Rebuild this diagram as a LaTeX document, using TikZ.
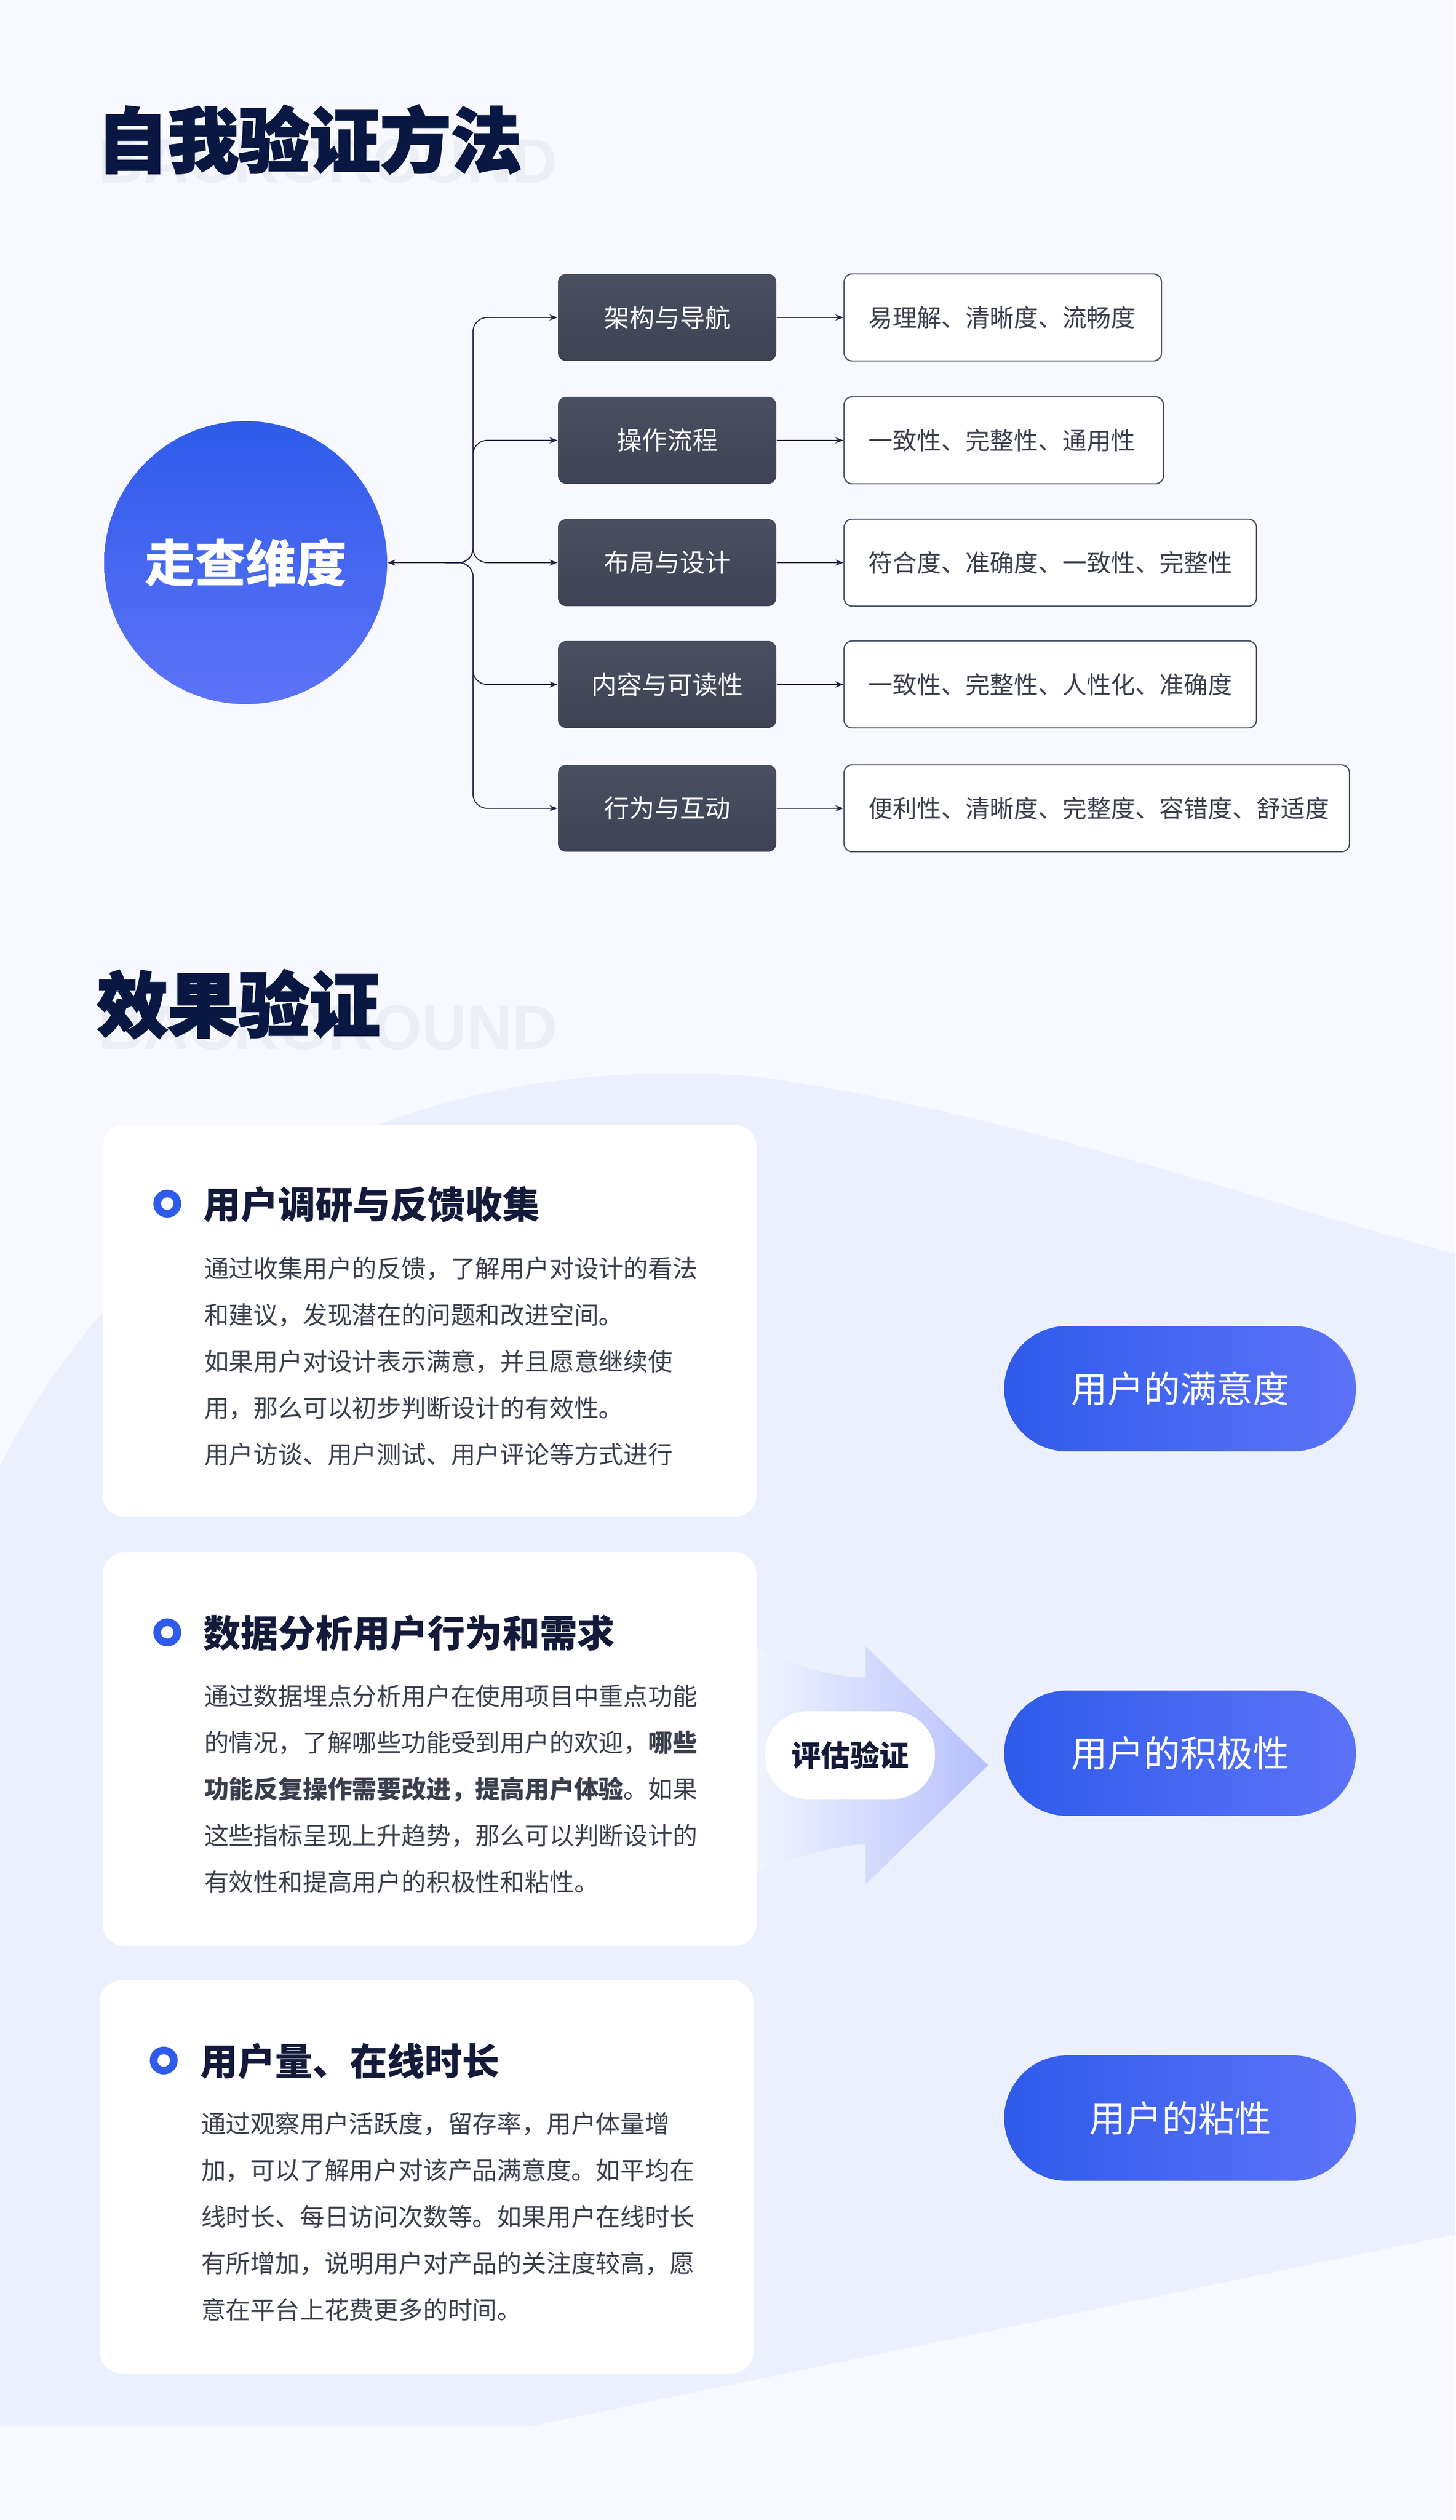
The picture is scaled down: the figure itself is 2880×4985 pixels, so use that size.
\documentclass[tikz,border=0pt]{standalone}
\usepackage{fontspec}
\setmainfont{Noto Sans CJK SC}
\newfontfamily\heavy{Noto Sans CJK SC}[BoldFeatures={FakeBold=2.5}]
\newfontfamily\wm{Liberation Sans}
\usetikzlibrary{arrows.meta,shadings}
\definecolor{pagebg}{HTML}{F7F9FE}
\definecolor{navy}{HTML}{081842}
\definecolor{wmc}{HTML}{EBEEF5}
\definecolor{dark1}{HTML}{4A4F62}
\definecolor{dark2}{HTML}{3E4254}
\definecolor{blueA}{HTML}{2F5BEA}
\definecolor{blueB}{HTML}{5C73F8}
\definecolor{txt}{HTML}{3A3F4E}
\definecolor{head}{HTML}{141B3A}
\definecolor{linec}{HTML}{1E2540}
\definecolor{pale}{HTML}{E8EEFC}
\tikzset{
 darkbox/.style={rounded corners=4pt, top color=dark1, bottom color=dark2, draw=none, minimum width=108pt, minimum height=43pt, text=white, font=\fontsize{12.5}{14}\selectfont},
 wbox/.style={rounded corners=4pt, fill=white, draw=dark1, line width=0.6pt, minimum height=43pt, anchor=west, text=txt, font=\fontsize{12}{14}\selectfont, align=left, inner xsep=12pt},
 conn/.style={draw=linec, line width=0.5pt, -{Stealth[length=4pt,width=3pt]}},
 card/.style={rounded corners=11pt, fill=white, draw=none},
 ring/.style={draw=blueA, line width=3.8pt, fill=white, circle, minimum size=10pt, inner sep=0pt},
 hd/.style={anchor=base west, text=head, font=\fontsize{18.5}{20}\selectfont\bfseries},
 bd/.style={anchor=base west, text=txt, font=\fontsize{12.2}{14}\selectfont},
 pill/.style={rounded corners=31pt, minimum width=174pt, minimum height=62pt, left color=blueA, right color=blueB, text=white, font=\fontsize{18}{20}\selectfont},
 wmark/.style={anchor=base west, text=wmc, font=\fontsize{31}{33}\selectfont\wm\bfseries},
 ttl/.style={anchor=base west, text=navy, font=\fontsize{35}{38}\selectfont\heavy\bfseries}
}
\begin{document}
\begin{tikzpicture}[x=0.25pt,y=-0.25pt]
\fill[pagebg] (0,0) rectangle (2880,4985);
\useasboundingbox (0,0) rectangle (2880,4985);
% background decoration
\fill[pale, opacity=0.8] (0,2900) .. controls (300,2300) and (900,2080) .. (1500,2130) .. controls (2000,2200) and (2500,2380) .. (2880,2480) -- (2880,4420) -- (1048,4800) -- (0,4800) -- cycle;
% ===== section 1 =====
\node[wmark] (wm1) at (180,362) {BACKGROUND};
\node[ttl] (t1) at (178,330) {自我验证方法};
\node[circle, minimum size=140pt, inner sep=0pt, top color=blueA, bottom color=blueB, text=white, font=\fontsize{25}{27}\selectfont\bfseries] (circ) at (486,1113) {走查维度};
\foreach \i/\y/\a/\b/\w in {1/628/架构与导航/易理解、清晰度、流畅度/133,
 2/871/操作流程/一致性、完整性、通用性/134,
 3/1113/布局与设计/符合度、准确度、一致性、完整性/180,
 4/1354/内容与可读性/一致性、完整性、人性化、准确度/180,
 5/1599/行为与互动/便利性、清晰度、完整度、容错度、舒适度/226}{
 \node[darkbox] (d\i) at (1320,\y) {\a};
 \node[wbox, text width=\w pt] (r\i) at (1669,\y) {\b};
 \draw[conn] (d\i.east) -- (r\i.west);
 \draw[conn, rounded corners=7pt] (880,1113) -| (936,\y) -- (d\i.west);
}
\coordinate (jn) at (880,1113);
\draw[conn] (jn) -- (circ.east);
% ===== section 2 =====
\node[wmark] (wm2) at (180,2075) {BACKGROUND};
\node[ttl] (t2) at (178,2040) {效果验证};
% big arrow
\shade[left color=pale!60!white, right color=blueB!45!white] (1490,3257) .. controls (1580,3300) and (1650,3316) .. (1713,3319) -- (1713,3257) -- (1955,3492) -- (1713,3727) -- (1713,3648) .. controls (1650,3652) and (1580,3670) .. (1490,3705) -- cycle;
% cards
\node[card, minimum width=323.5pt, minimum height=194pt] (c1) at (850,2613) {};
\node[card, minimum width=323.5pt, minimum height=194.7pt] (c2) at (850,3460) {};
\node[card, minimum width=323.5pt, minimum height=194.5pt] (c3) at (844,4306) {};
\node[ring] (i1) at (331,2381) {};
\node[ring] (i2) at (331,3229) {};
\node[ring] (i3) at (324,4076) {};
\node[hd] (h1) at (388,2410) {用户调研与反馈收集};
\node[hd] (h2) at (388,3258) {数据分析用户行为和需求};
\node[hd] (h3) at (382,4105) {用户量、在线时长};
\node[bd] (a1) at (390,2527) {通过收集用户的反馈，了解用户对设计的看法};
\node[bd] (a2) at (390,2619) {和建议，发现潜在的问题和改进空间。};
\node[bd] (a3) at (390,2711) {如果用户对设计表示满意，并且愿意继续使};
\node[bd] (a4) at (390,2803) {用，那么可以初步判断设计的有效性。};
\node[bd] (a5) at (390,2895) {用户访谈、用户测试、用户评论等方式进行};
\node[bd] (b1) at (390,3373) {通过数据埋点分析用户在使用项目中重点功能};
\node[bd] (b2) at (390,3465) {的情况，了解哪些功能受到用户的欢迎，\textbf{哪些}};
\node[bd] (b3) at (390,3557) {\textbf{功能反复操作需要改进，提高用户体验}。如果};
\node[bd] (b4) at (390,3649) {这些指标呈现上升趋势，那么可以判断设计的};
\node[bd] (b5) at (390,3741) {有效性和提高用户的积极性和粘性。};
\node[bd] (e1) at (384,4219) {通过观察用户活跃度，留存率，用户体量增};
\node[bd] (e2) at (384,4311) {加，可以了解用户对该产品满意度。如平均在};
\node[bd] (e3) at (384,4403) {线时长、每日访问次数等。如果用户在线时长};
\node[bd] (e4) at (384,4495) {有所增加，说明用户对产品的关注度较高，愿};
\node[bd] (e5) at (384,4587) {意在平台上花费更多的时间。};
\node[rounded corners=21pt, fill=white, minimum width=84pt, minimum height=43.5pt, text=head, font=\fontsize{14.5}{16}\selectfont\bfseries] (ev) at (1682,3472) {评估验证};
\node[pill] (p1) at (2335,2747) {用户的满意度};
\node[pill] (p2) at (2335,3468) {用户的积极性};
\node[pill] (p3) at (2335,4190) {用户的粘性};
\end{tikzpicture}
\end{document}
